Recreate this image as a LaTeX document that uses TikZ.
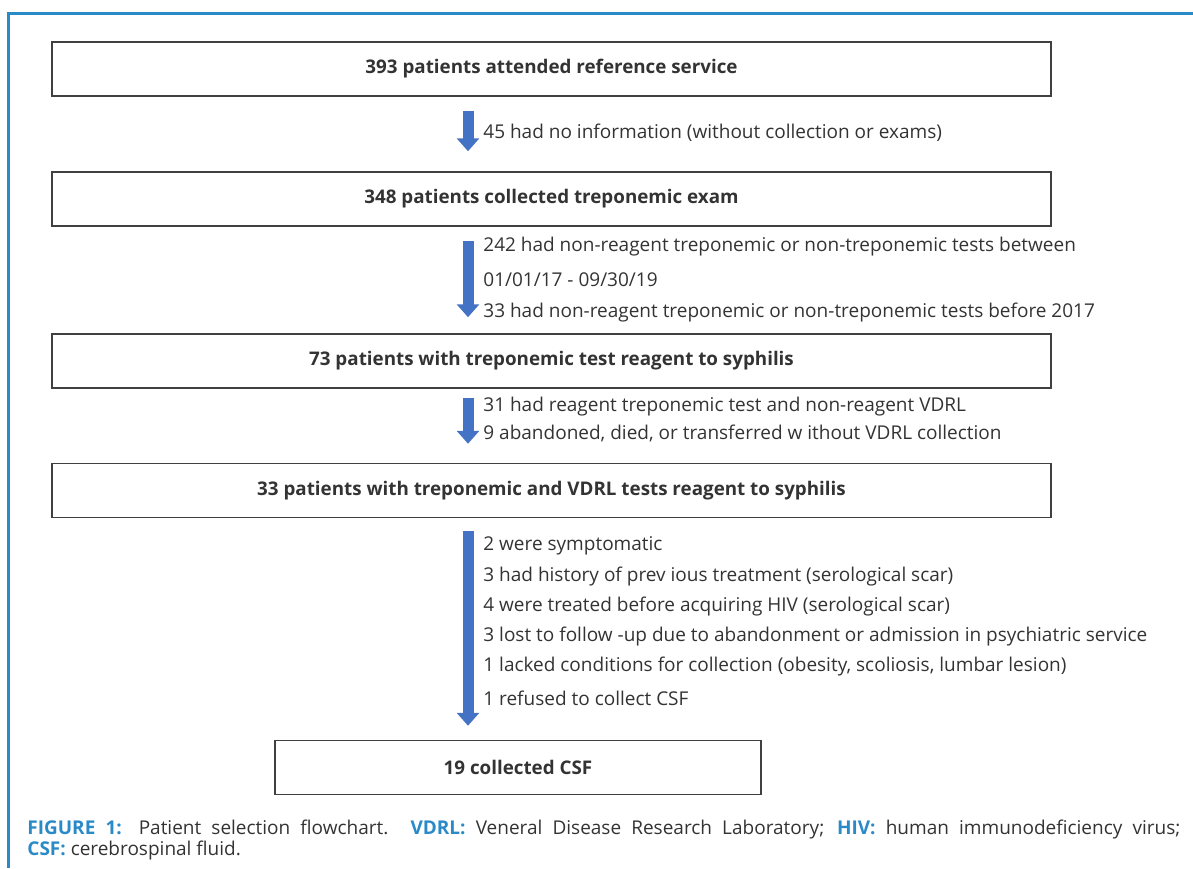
\documentclass[tikz,border=0pt]{standalone}
\usepackage{fontspec}
\setmainfont{Open Sans}
\usetikzlibrary{arrows.meta}
\definecolor{framebl}{HTML}{2A8AC8}
\definecolor{arrowbl}{HTML}{4472C4}
\definecolor{txtgr}{HTML}{333333}
\definecolor{boxgr}{HTML}{404040}
\begin{document}
\begin{tikzpicture}[x=0.5pt,y=-0.5pt,
	every node/.style={text=txtgr, inner sep=0pt},
	stage/.style={draw=boxgr, line width=0.75pt, minimum width=499.5pt, minimum height=27pt,
		font=\bfseries\fontsize{9.4}{11}\selectfont},
	note/.style={anchor=west, font=\fontsize{9.5}{11}\selectfont},
	flowarrow/.style={draw=arrowbl, line width=5.5pt, -{Triangle[width=11pt,length=6.5pt]}},
	figlabel/.style={text=framebl, font=\bfseries}]
	\useasboundingbox (0,0) rectangle (1193,868);
%	frame of the figure
	\draw[framebl, line width=1.4pt] (1193,13.5) -| (8.5,868);

%	\coordinate (    ) at (X  , Y  );
	\coordinate (c1) at (551.5, 69);
	\coordinate (c2) at (551.5, 199);
	\coordinate (c3) at (551.5, 361);
	\coordinate (c4) at (551.5, 490.5);
	\coordinate (c5) at (518  , 767.5);
	\coordinate (ax) at (468  , 0);

	\node[stage] (b1) at (c1) {393 patients attended reference service};
	\node[stage] (b2) at (c2) {348 patients collected treponemic exam};
	\node[stage] (b3) at (c3) {73 patients with treponemic test reagent to syphilis};
	\node[stage] (b4) at (c4) {33 patients with treponemic and VDRL tests reagent to syphilis};
	\node[stage, minimum width=243pt] (b5) at (c5) {19 collected CSF};

	\draw[flowarrow] ([yshift=-7pt]b1.south -| ax) -- ([yshift=10pt]b2.north -| ax);
	\draw[flowarrow] ([yshift=-7pt]b2.south -| ax) -- ([yshift=8pt]b3.north -| ax);
	\draw[flowarrow] ([yshift=-4.5pt]b3.south -| ax) -- ([yshift=9.5pt]b4.north -| ax);
	\draw[flowarrow] ([yshift=-6.5pt]b4.south -| ax) -- ([yshift=7pt]b5.north -| ax);

	\node[note] (n11) at (483,133) {45 had no information (without collection or exams)};

	\node[note] (n21) at (483,247) {242 had non-reagent treponemic or non-treponemic tests between};
	\node[note] (n22) at (483,280) {01/01/17 - 09/30/19};
	\node[note] (n23) at (483,313) {33 had non-reagent treponemic or non-treponemic tests before 2017};

	\node[note] (n31) at (483,407) {31 had reagent treponemic test and non-reagent VDRL};
	\node[note] (n32) at (483,433) {9 abandoned, died, or transferred w ithout VDRL collection};

	\node[note] (n41) at (483,546) {2 were symptomatic};
	\node[note] (n42) at (483,577) {3 had history of prev ious treatment (serological scar)};
	\node[note] (n43) at (483,607) {4 were treated before acquiring HIV (serological scar)};
	\node[note] (n44) at (483,637) {3 lost to follow -up due to abandonment or admission in psychiatric service};
	\node[note] (n45) at (483,667) {1 lacked conditions for collection (obesity, scoliosis, lumbar lesion)};
	\node[note] (n46) at (483,698) {1 refused to collect CSF};

%	caption
	\node[anchor=base west, text width=576.5pt, align=justify, font=\fontsize{9.5}{10.5}\selectfont] (cap) at (27,834)
		{\textcolor{framebl}{\bfseries FIGURE 1:} Patient selection flowchart. \textcolor{framebl}{\bfseries VDRL:} Veneral Disease Research Laboratory; \textcolor{framebl}{\bfseries HIV:} human immunodeficiency virus;\linebreak
		\textcolor{framebl}{\bfseries CSF:} cerebrospinal fluid.};
\end{tikzpicture}
\end{document}
